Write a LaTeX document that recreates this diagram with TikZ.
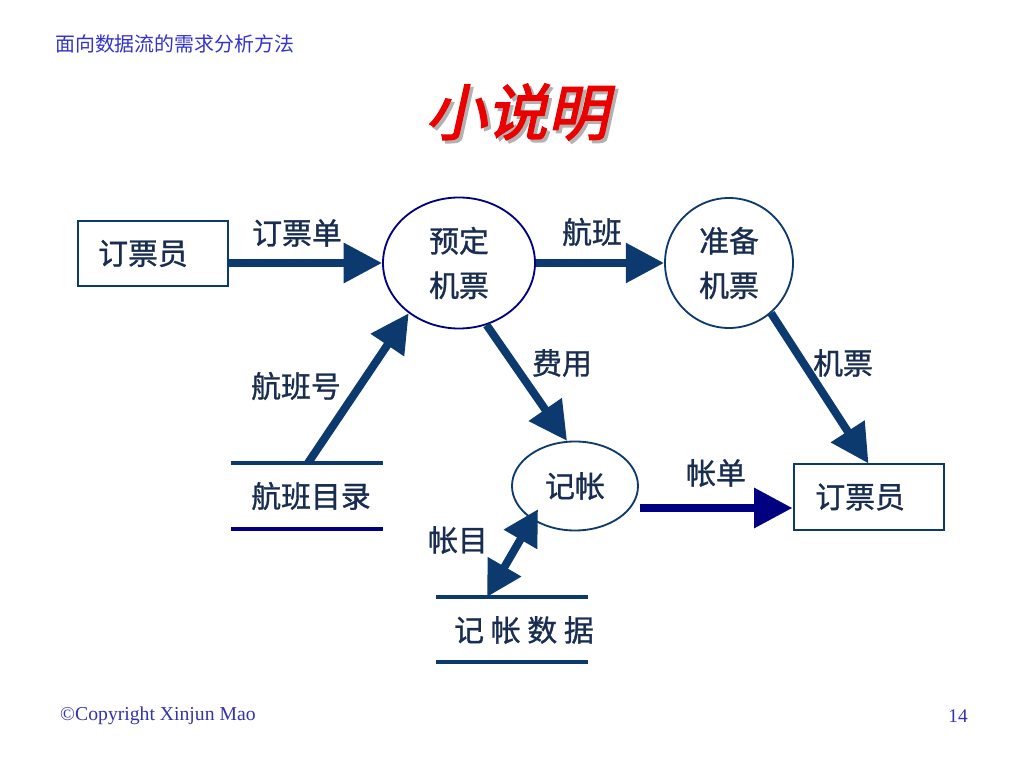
\documentclass[tikz,border=0pt]{standalone}
\usepackage{fontspec}
\setmainfont{Liberation Serif}
\newfontfamily\cjk[FakeBold=1]{Noto Sans CJK SC}
\newfontfamily\headfont{Noto Sans CJK SC}
\newfontfamily\titlefont[FakeSlant=0.22,FakeBold=2.5]{Noto Sans CJK SC}
\usetikzlibrary{arrows.meta,shapes.geometric}
\definecolor{flowblue}{RGB}{12,58,110}
\definecolor{billnavy}{RGB}{0,0,128}
\definecolor{textblue}{RGB}{25,45,80}
\definecolor{headblue}{RGB}{51,51,204}
\definecolor{footblue}{RGB}{51,51,170}
\definecolor{titlered}{RGB}{235,0,0}

\begin{document}
\begin{tikzpicture}[x=0.03cm,y=-0.03cm,
    lbl/.style={font=\cjk\fontsize{25.5}{38}\selectfont,text=textblue,align=center,inner sep=0pt},
    entity/.style={lbl,draw=flowblue,line width=0.06cm,minimum width=4.5cm,minimum height=1.95cm},
    proc/.style={lbl,ellipse,draw=#1,line width=0.055cm},
    flow/.style={flowblue,line width=0.24cm,-{Triangle[length=1.15cm,width=1.15cm]}},
    store/.style={line width=0.12cm,#1}]
      \useasboundingbox[fill=white] (0,0) rectangle (1024,768);
      % header and title
      \node[anchor=west,inner sep=0pt,font=\headfont\fontsize{17}{19}\selectfont,text=headblue] (head) at (55,44) {面向数据流的需求分析方法};
      \node[font=\titlefont\fontsize{52}{56}\selectfont,text=black!30] at (520,115) {小说明};
      \node[font=\titlefont\fontsize{52}{56}\selectfont,text=titlered] (title) at (517,112) {小说明};
      % entities and processes
      \node[entity] (clerk1) at (153,253.5) {订票员\hspace*{0.6cm}};
      \node[entity] (clerk2) at (868.5,497) {订票员\hspace*{0.5cm}};
      \node[proc=billnavy,minimum width=4.56cm,minimum height=3.93cm] (book) at (459,263) {预定\\机票};
      \node[proc=flowblue,minimum width=3.84cm,minimum height=3.9cm] (prep) at (729,263) {准备\\机票};
      \node[proc=flowblue,minimum width=3.78cm,minimum height=2.67cm] (acct) at (575,486) {记帐};
      % data stores
      \draw[store=flowblue] (231,463) -- (383,463);
      \draw[store=billnavy] (231,529) -- (383,529);
      \node[lbl] (flights) at (311,496) {航班目录};
      \draw[store=flowblue] (436,597) -- (588,597);
      \draw[store=flowblue] (436,662) -- (588,662);
      \node[lbl] (records) at (524,630) {记 帐 数 据};
      \coordinate (flightsTop) at (308,463);
      \coordinate (recordsTop) at (487,597);
      \coordinate (billStart) at (640,508);
      % flows
      \draw[flow] (clerk1.east |- book.west) -- (book.west);
      \draw[flow] (book.east) -- (prep.west);
      \draw[flow] (prep.-50) -- (clerk2.north);
      \draw[flow] (book.-66) -- (acct.100);
      \draw[flow] (flightsTop) -- (book.-135);
      \draw[flow,shorten >=-0.36cm,{Triangle[length=1.05cm,width=1.1cm]}-{Triangle[length=1.05cm,width=1.1cm]}] (recordsTop) -- (acct.-142);
      \draw[flow,billnavy] (billStart) -- (billStart -| clerk2.west);
      % flow labels
      \node[lbl] (order) at (297,233) {订票单};
      \node[lbl] (flight) at (592,232) {航班};
      \node[lbl] (ticket) at (843,363) {机票};
      \node[lbl] (fee) at (562,363) {费用};
      \node[lbl] (flightNo) at (296,386) {航班号};
      \node[lbl] (bill) at (716,473) {帐单};
      \node[lbl] (entry) at (458,540) {帐目};
      % footer
      \node[anchor=west,font=\fontsize{16.8}{18}\selectfont,text=footblue,inner sep=0pt] (copy) at (60,716) {\textcopyright Copyright Xinjun Mao};
      \node[anchor=east,font=\fontsize{16.5}{18}\selectfont,text=footblue,inner sep=0pt] (page) at (968,716) {14};
\end{tikzpicture}
\end{document}
